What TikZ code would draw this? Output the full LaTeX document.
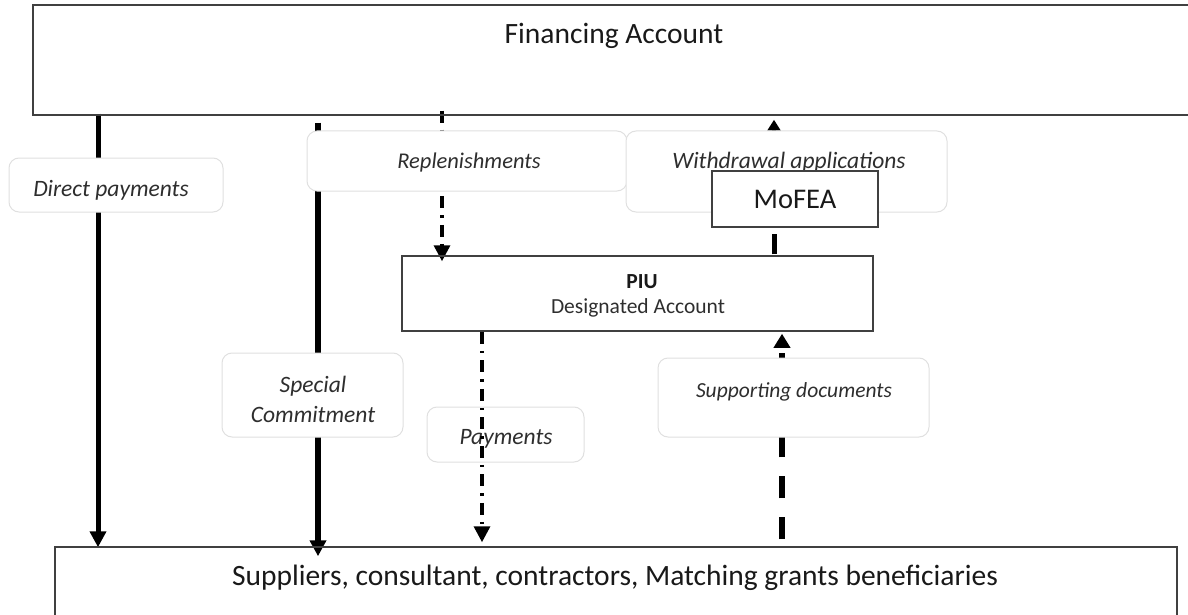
\documentclass[tikz,border=0pt]{standalone}
\usepackage{fontspec}
\setmainfont{Carlito}
\usetikzlibrary{arrows.meta}
\pgfdeclarelayer{lines}
\pgfdeclarelayer{labels}
\pgfdeclarelayer{front}
\pgfsetlayers{lines,labels,main,front}
\begin{document}
\begin{tikzpicture}[x=1pt,y=-1pt,
  box/.style={draw=black!75, line width=1.5pt, rectangle, inner sep=0pt},
  lbl/.style={draw=black!12, line width=1pt, fill=white, rounded corners=10pt, inner sep=0pt},
  ltxt/.style={font=\itshape\fontsize{23.5pt}{28pt}\selectfont, text=black!82, inner sep=0pt, anchor=base},
  btxt/.style={font=\fontsize{29.5pt}{34pt}\selectfont, text=black!90, inner sep=0pt, anchor=base},
  solidarrow/.style={line width=5pt, -{Triangle[width=16pt,length=16pt]}},
  dashdot/.style={line width=3.4pt, dash pattern=on 12pt off 7pt on 2.5pt off 7pt, -{Triangle[width=16pt,length=16pt]}},
]
\useasboundingbox (0,0) rectangle (1188,615);

% main boxes
\node[box, minimum width=1177pt, minimum height=110pt] (fin) at (621.5,60) {};
\node[btxt] (fintxt) at (614,44) {Financing Account};
\node[box, minimum width=1122pt, minimum height=113pt] (sup) at (616,603.5) {};
\node[btxt] (suptxt) at (615,585) {Suppliers, consultant, contractors, Matching grants beneficiaries};
\node[box, minimum width=471pt, minimum height=75pt] (piu) at (637.5,293.5) {};
\node[font=\bfseries\fontsize{21.5pt}{25pt}\selectfont, text=black!90, inner sep=0pt, anchor=base] (piut) at (642,288) {PIU};
\node[font=\fontsize{21.5pt}{25pt}\selectfont, text=black!82, inner sep=0pt, anchor=base] (piud) at (638,313) {Designated Account};
\node[box, fill=white, minimum width=166pt, minimum height=56pt, font=\fontsize{28.5pt}{34pt}\selectfont, text=black!90] (mofea) at (795,199) {MoFEA};

% x positions of connectors
\coordinate (xd) at (98,0);
\coordinate (xs) at (318,0);
\coordinate (xr) at (442,0);
\coordinate (xp) at (482,0);
\coordinate (xm) at (774,0);
\coordinate (xsd) at (782,0);

\begin{pgfonlayer}{lines}
\draw[solidarrow, shorten <=-2pt, shorten >=-1pt] (fin.south -| xd) -- (sup.north -| xd);
\draw[solidarrow, line width=6pt, shorten <=7pt, shorten >=-10pt] (fin.south -| xs) -- (sup.north -| xs);
\draw[dashdot, shorten <=-5pt, shorten >=-6pt] (fin.south -| xr) -- (piu.north -| xr);
\draw[line width=4pt, -{Triangle[width=13pt,length=11pt]}, shorten >=4pt] (mofea.north -| xm) -- (fin.south -| xm);
\draw[line width=5pt, shorten <=1pt, shorten >=6pt] (piu.north -| xm) -- (mofea.south -| xm);
\draw[line width=6pt, dash pattern=on 22pt off 19pt, -{Triangle[width=16pt,length=14pt]}, shorten <=7pt, shorten >=2pt] (sup.north -| xsd) -- (piu.south -| xsd);
\end{pgfonlayer}

\begin{pgfonlayer}{labels}
\node[lbl, minimum width=214pt, minimum height=54pt] (dp) at (116,185) {};
\node[ltxt] (dpt) at (111,196) {Direct payments};
\node[lbl, minimum width=320pt, minimum height=60pt] (rep) at (467,161) {};
\node[ltxt, font=\itshape\fontsize{22.5pt}{28pt}\selectfont] (rept) at (469,168) {Replenishments};
\node[lbl, minimum width=321pt, minimum height=81pt] (wa) at (786.5,171.5) {};
\node[ltxt] (wat) at (789,168) {Withdrawal applications};
\node[lbl, minimum width=181pt, minimum height=84pt] (sc) at (312.5,395) {};
\node[ltxt] (sct1) at (313,392) {Special};
\node[ltxt] (sct2) at (313,422) {Commitment};
\node[lbl, minimum width=157pt, minimum height=55pt] (pay) at (505.5,434.5) {};
\node[ltxt] (payt) at (506,444) {Payments};
\node[lbl, minimum width=271pt, minimum height=79pt] (sd) at (793.5,397.5) {};
\node[ltxt, font=\itshape\fontsize{21.5pt}{26pt}\selectfont] (sdt) at (794,397) {Supporting documents};
\end{pgfonlayer}

\begin{pgfonlayer}{front}
\draw[dashdot, shorten >=4pt] (piu.south -| xp) -- (sup.north -| xp);
\end{pgfonlayer}
\end{tikzpicture}
\end{document}
